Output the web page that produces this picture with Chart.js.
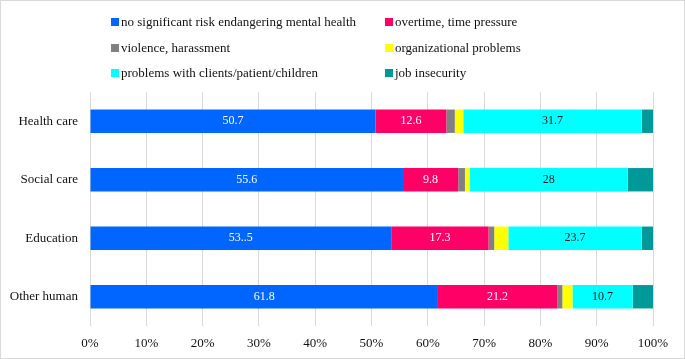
<!DOCTYPE html>
<html>
<head>
<meta charset="utf-8">
<script src="https://cdn.jsdelivr.net/npm/chart.js@4.4.1/dist/chart.umd.min.js"></script>
<style>
  html, body { margin: 0; padding: 0; background: #fff; }
  #wrap { position: relative; width: 685px; height: 359px; }
  #legend { position: absolute; left: 0; top: 0; width: 685px; font: 13px "Liberation Serif", "Times New Roman", serif; color: #111; }
  .leg-item { position: absolute; white-space: nowrap; line-height: 14px; }
  .leg-dot { display: inline-block; width: 8px; height: 8px; margin-right: 2px; vertical-align: 0px; }
</style>
</head>
<body>
<div id="wrap">
  <canvas id="chart" width="685" height="359"></canvas>
  <div id="legend"></div>
</div>
<script>
/* ── stacked share of risks, by sector ── */

const CATEGORIES = ['Health care', 'Social care', 'Education', 'Other human'];

const SERIES_NAMES = [
  'no significant risk endangering mental health',
  'overtime, time pressure',
  'violence, harassment',
  'organizational problems',
  'problems with clients/patient/children',
  'job insecurity'
];

const COLORS = ['#0066FF', '#FF0066', '#808080', '#FFFF00', '#00FFFF', '#009999'];

const NO_RISK     = [50.7, 55.6, 53.5, 61.8];
const OVERTIME    = [12.6, 9.8, 17.3, 21.2];
const VIOLENCE    = [1.5, 1.2, 1.0, 0.9];
const ORGANIZ     = [1.5, 0.9, 2.5, 1.8];
const CLIENTS     = [31.7, 28, 23.7, 10.7];
const INSECURITY  = [2.0, 4.5, 2.0, 3.6];

// labels as printed in the bars (null = no label)
const LABELS_NO_RISK  = ['50.7', '55.6', '53..5', '61.8'];
const LABELS_OVERTIME = ['12.6', '9.8', '17.3', '21.2'];
const LABELS_CLIENTS  = ['31.7', '28', '23.7', '10.7'];

const X_TICKS = ['0%', '10%', '20%', '30%', '40%', '50%', '60%', '70%', '80%', '90%', '100%'];

const SERIES_DATA = [NO_RISK, OVERTIME, VIOLENCE, ORGANIZ, CLIENTS, INSECURITY];
const SERIES_LABELS = [LABELS_NO_RISK, LABELS_OVERTIME, null, null, LABELS_CLIENTS, null];
const LABEL_COLORS = ['#ffffff', '#ffffff', null, null, '#1a1a1a', null];

const FONT = '"Liberation Serif", "Times New Roman", serif';

// legend, two columns
const legPos = [[111, 15], [385, 15], [111, 41], [385, 41], [111, 66], [385, 66]];
document.getElementById('legend').innerHTML = SERIES_NAMES.map((n, i) =>
  `<span class="leg-item" style="left:${legPos[i][0]}px;top:${legPos[i][1]}px"><span class="leg-dot" style="background:${COLORS[i]}"></span>${n}</span>`
).join('');

const borderPlugin = {
  id: 'frame',
  afterDraw(chart) {
    const ctx = chart.ctx;
    ctx.save();
    ctx.strokeStyle = '#d9d9d9';
    ctx.lineWidth = 1;
    ctx.strokeRect(0.5, 0.5, chart.width - 1, chart.height - 1);
    ctx.restore();
  }
};

const barLabels = {
  id: 'barLabels',
  afterDatasetsDraw(chart) {
    const ctx = chart.ctx;
    ctx.save();
    ctx.font = '12px ' + FONT;
    ctx.textAlign = 'center';
    ctx.textBaseline = 'middle';
    chart.data.datasets.forEach((ds, di) => {
      const labs = SERIES_LABELS[di];
      if (!labs) return;
      ctx.fillStyle = LABEL_COLORS[di];
      chart.getDatasetMeta(di).data.forEach((bar, i) => {
        const x = (bar.x + bar.base) / 2;
        ctx.fillText(labs[i], x, bar.y);
      });
    });
    ctx.restore();
  }
};

new Chart(document.getElementById('chart'), {
  type: 'bar',
  data: {
    labels: CATEGORIES,
    datasets: SERIES_DATA.map((d, i) => ({
      label: SERIES_NAMES[i],
      data: d,
      backgroundColor: COLORS[i],
      borderWidth: 0,
      barPercentage: 0.4,
      categoryPercentage: 1
    }))
  },
  options: {
    indexAxis: 'y',
    responsive: false,
    animation: false,
    layout: { padding: { top: 92, right: 32, bottom: 8, left: 0 } },
    plugins: { legend: { display: false }, tooltip: { enabled: false } },
    scales: {
      x: {
        stacked: true,
        min: 0,
        max: 100,
        border: { display: false },
        grid: { color: '#d9d9d9', drawTicks: false },
        ticks: {
          stepSize: 10,
          padding: 10,
          color: '#111',
          font: { family: FONT, size: 13 },
          callback: (v, i) => X_TICKS[i]
        },
        afterFit: s => { s.height = 25; }
      },
      y: {
        stacked: true,
        border: { display: false },
        grid: { display: false, drawTicks: false },
        ticks: { padding: 12, color: '#111', font: { family: FONT, size: 13 } },
        afterFit: s => { s.width = 90; }
      }
    }
  },
  plugins: [borderPlugin, barLabels]
});
</script>
</body>
</html>
